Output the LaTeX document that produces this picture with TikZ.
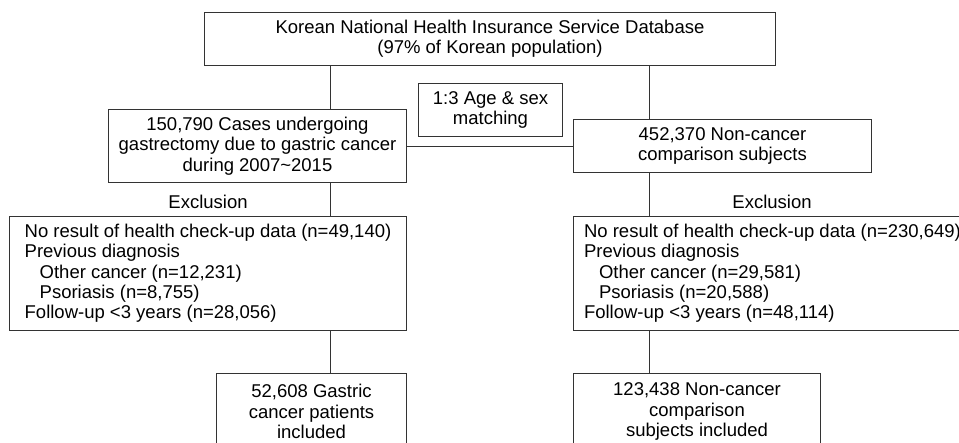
\documentclass[tikz,border=0pt]{standalone}
\usepackage{fontspec}
\setmainfont{Liberation Sans}
\begin{document}
\begin{tikzpicture}[x=1pt,y=-1pt,
  box/.style={draw=black!80, line width=1pt, rectangle, inner sep=0pt, anchor=north west, align=center, font=\fontsize{18.5}{20.3}\selectfont},
  leftbox/.style={box, align=left},
  link/.style={draw=black!80, line width=1pt},
  lbl/.style={inner sep=0pt, font=\fontsize{18.5}{20.3}\selectfont}]
\useasboundingbox (0,0) rectangle (959,442);
\node[box, minimum width=571, minimum height=53] (db) at (204,12) {Korean National Health Insurance Service Database\\(97\% of Korean population)};
\node[box, minimum width=144, minimum height=53] (match) at (418,83) {1:3 Age \& sex\\matching};
\node[box, minimum width=298, minimum height=73] (cases) at (108,109) {150,790 Cases undergoing\\gastrectomy due to gastric cancer\\during 2007\textasciitilde 2015};
\node[box, minimum width=298, minimum height=53] (ctrl) at (573,119) {452,370 Non-cancer\\comparison subjects};
\node[leftbox, minimum width=397, minimum height=114] (exA) at (9,216) {No result of health check-up data (n=49,140)\\Previous diagnosis\\\hspace*{15pt}Other cancer (n=12,231)\\\hspace*{15pt}Psoriasis (n=8,755)\\Follow-up <3 years (n=28,056)};
\node[leftbox, minimum width=398, minimum height=114] (exB) at (573,216) {No result of health check-up data (n=230,649)\\Previous diagnosis\\\hspace*{15pt}Other cancer (n=29,581)\\\hspace*{15pt}Psoriasis (n=20,588)\\Follow-up <3 years (n=48,114)};
\node[box, minimum width=190, minimum height=76] (incA) at (216,373) {52,608 Gastric\\cancer patients\\included};
\node[box, minimum width=247, minimum height=76] (incB) at (573,373) {123,438 Non-cancer\\comparison\\subjects included};
\node[lbl] (exclA) at (208,202) {Exclusion};
\node[lbl] (exclB) at (772,202) {Exclusion};
\coordinate (cL) at (330,0);
\coordinate (cR) at (649,0);
\draw[link] (db.south -| cL) -- (cases.north -| cL);
\draw[link] (db.south -| cR) -- (ctrl.north -| cR);
\draw[link] (cases.east) -- (ctrl.west);
\draw[link] (cases.south -| cL) -- (exA.north -| cL);
\draw[link] (ctrl.south -| cR) -- (exB.north -| cR);
\draw[link] (exA.south -| cL) -- (incA.north -| cL);
\draw[link] (exB.south -| cR) -- (incB.north -| cR);
\end{tikzpicture}
\end{document}
